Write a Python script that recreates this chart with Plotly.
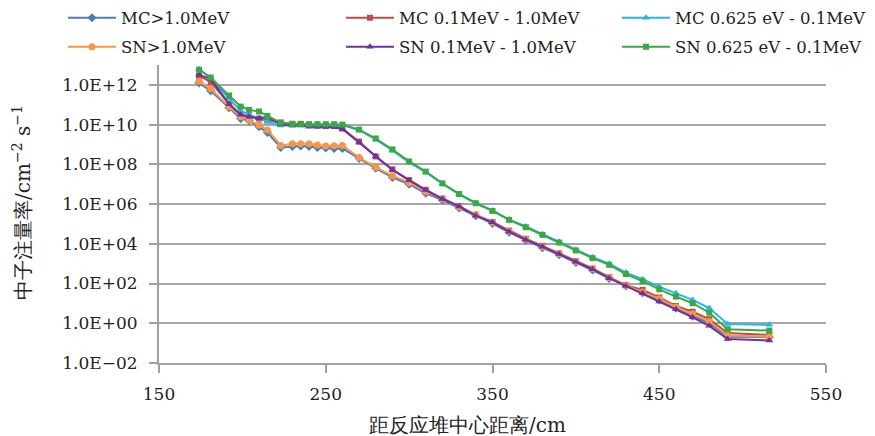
import plotly.graph_objects as go

distance_cm = [174, 181, 192, 199, 204, 210, 215, 223, 230, 235, 240, 245, 250, 255, 260,
               270, 280, 290, 300, 310, 320, 330, 340, 350, 360, 370, 380, 390, 400, 410,
               420, 430, 440, 450, 460, 470, 480, 491, 516]

mc_gt1 = [1.26e12, 5.0e11, 7.1e10, 2.0e10, 1.6e10, 7.9e9, 4.0e9, 7.1e8, 7.9e8, 8.3e8, 7.9e8, 7.1e8,
          6.6e8, 6.3e8, 6.3e8, 2.0e8, 6.3e7, 2.2e7, 1.0e7, 3.5e6, 1.6e6, 6.3e5, 2.6e5, 1.05e5,
          3.8e4, 1.5e4, 6.3e3, 2.8e3, 1.15e3, 480, 180, 76, 35, 15, 5.8, 2.3, 1.0, 0.21, 0.2]
mc_01_1 = [2.8e12, 1.4e12, 1.1e11, 3.2e10, 2.5e10, 2.0e10, 1.6e10, 1.26e10, 1.1e10, 1.1e10, 1.0e10,
           8.9e9, 8.5e9, 8.5e9, 6.3e9, 1.4e9, 2.5e8, 5.6e7, 1.6e7, 5.2e6, 1.9e6, 7.9e5, 2.8e5,
           1.26e5, 4.6e4, 1.8e4, 7.9e3, 3.3e3, 1.35e3, 575, 210, 83, 48, 20, 7.4, 3.8, 1.6, 0.32, 0.26]
mc_th = [6.3e12, 2.2e12, 2.0e11, 5.0e10, 3.2e10, 2.0e10, 1.4e10, 8.9e9, 8.9e9, 9.3e9, 9.5e9, 1.0e10,
         1.0e10, 1.0e10, 9.5e9, 5.2e9, 1.8e9, 5.0e8, 1.26e8, 4.0e7, 1.05e7, 3.2e6, 1.1e6, 4.8e5,
         1.66e5, 7.4e4, 3.0e4, 1.26e4, 5.0e3, 2.1e3, 1.0e3, 355, 166, 69, 32, 15, 5.8, 0.93, 0.83]
sn_gt1 = [1.5e12, 6.3e11, 7.9e10, 2.5e10, 1.7e10, 9.5e9, 5.4e9, 8.9e8, 1.1e9, 1.1e9, 1.1e9, 9.5e8,
          8.3e8, 8.5e8, 8.9e8, 2.2e8, 7.1e7, 2.6e7, 1.2e7, 4.2e6, 1.8e6, 7.2e5, 3.0e5, 1.2e5,
          4.3e4, 1.7e4, 7.2e3, 3.2e3, 1.3e3, 550, 200, 79, 38, 17, 6.6, 3.0, 1.26, 0.24, 0.21]
sn_01_1 = [3.2e12, 2.0e12, 1.07e11, 3.1e10, 2.5e10, 2.1e10, 2.5e10, 1.0e10, 8.9e9, 8.9e9, 7.9e9,
           7.9e9, 7.9e9, 7.6e9, 6.0e9, 1.26e9, 2.45e8, 5.2e7, 1.6e7, 5.1e6, 1.8e6, 7.6e5, 2.6e5,
           1.2e5, 4.1e4, 1.6e4, 7.2e3, 3.1e3, 1.26e3, 525, 186, 76, 32, 12.3, 5.1, 2.0, 0.74, 0.16, 0.135]
sn_th = [5.75e12, 2.35e12, 2.9e11, 8.1e10, 5.5e10, 4.6e10, 2.75e10, 1.26e10, 1.05e10, 1.05e10,
         1.05e10, 1.05e10, 1.05e10, 1.05e10, 1.0e10, 5.6e9, 2.0e9, 5.6e8, 1.4e8, 4.3e7, 1.1e7,
         3.2e6, 1.1e6, 4.5e5, 1.6e5, 6.8e4, 2.8e4, 1.15e4, 4.6e3, 1.9e3, 870, 300, 132, 51, 22,
         10.2, 3.4, 0.5, 0.43]

series_names = ["MC>1.0MeV", "MC 0.1MeV - 1.0MeV", "MC 0.625 eV - 0.1MeV",
                "SN>1.0MeV", "SN 0.1MeV - 1.0MeV", "SN 0.625 eV - 0.1MeV"]
series_values = [mc_gt1, mc_01_1, mc_th, sn_gt1, sn_01_1, sn_th]

y_tickvals = [1e-2, 1e0, 1e2, 1e4, 1e6, 1e8, 1e10, 1e12]
y_ticktext = ["1.0E\u221202", "1.0E+00", "1.0E+02", "1.0E+04", "1.0E+06", "1.0E+08", "1.0E+10", "1.0E+12"]
x_tickvals = [150, 250, 350, 450, 550]
x_title = "距反应堆中心距离/cm"
y_title = "中子注量率/cm<sup>\u22122</sup> s<sup>\u22121</sup>"

colors = ["#4a7ebb", "#be4b48", "#29b3f0", "#f79646", "#7030a0", "#3aa843"]
symbols = ["diamond", "square", "triangle-up", "circle", "triangle-up", "square"]
msizes = [7, 6, 7, 7, 7, 6]

# one legend box per entry, laid out as 3 columns x 2 rows (page pixels)
leg_ids = ["legend", "legend2", "legend3", "legend4", "legend5", "legend6"]
leg_left_px = [63, 341, 617, 63, 341, 617]
leg_mid_px = [18, 18, 18, 47, 47, 47]

PL, PR, PT, PB = 159, 826, 65, 363  # plot area in page pixels (page has 8px body margin)
PW, PH = PR - PL, PB - PT

serif = "DejaVu Serif"

fig = go.Figure()
for name, vals, c, s, ms, lid in zip(series_names, series_values, colors, symbols, msizes, leg_ids):
    fig.add_trace(go.Scatter(
        x=distance_cm, y=vals, name=name, mode="lines+markers",
        line=dict(color=c, width=2),
        marker=dict(symbol=s, size=ms, color=c),
        legend=lid,
    ))

legends = {}
for lid, lx, ly in zip(leg_ids, leg_left_px, leg_mid_px):
    legends[lid] = dict(
        orientation="h", x=(lx - PL) / PW, y=(PB - ly) / PH,
        xanchor="left", yanchor="middle",
        font=dict(size=16.5, family=serif, color="#222222"),
        itemwidth=48, bgcolor="rgba(0,0,0,0)", borderwidth=0,
    )

fig.update_layout(
    template="none",
    width=867, height=428,
    margin=dict(l=151, r=49, t=57, b=73, autoexpand=False),
    paper_bgcolor="white", plot_bgcolor="white",
    font=dict(family=serif, size=17, color="#222222"),
    showlegend=True,
    xaxis=dict(
        range=[150, 550], tickvals=x_tickvals, showgrid=False, automargin=False,
        showline=True, linecolor="#a0a0a0", linewidth=2,
        ticks="outside", ticklen=8, tickcolor="#a0a0a0", tickwidth=1.5,
        tickfont=dict(size=17, family=serif), ticklabelstandoff=7,
        zeroline=False,
    ),
    yaxis=dict(
        type="log", range=[-2, 13], tickvals=y_tickvals, ticktext=y_ticktext, automargin=False,
        showgrid=True, gridcolor="#a6a6a6", gridwidth=2,
        showline=True, linecolor="#a0a0a0", linewidth=2,
        ticks="outside", ticklen=8, tickcolor="#a0a0a0", tickwidth=1.5,
        tickfont=dict(size=17, family=serif), ticklabelstandoff=8,
        zeroline=False,
    ),
    annotations=[
        dict(text=x_title, xref="paper", yref="paper",
             x=(467 - PL) / PW, y=(PB - 425) / PH, xanchor="center", yanchor="middle",
             showarrow=False, font=dict(size=20, family=serif, color="#222222")),
        dict(text=y_title, xref="paper", yref="paper", textangle=-90,
             x=(22 - PL) / PW, y=(PB - 203) / PH, xanchor="center", yanchor="middle",
             showarrow=False, font=dict(size=20, family=serif, color="#222222")),
    ],
    **legends,
)

fig.write_html("out.html")
